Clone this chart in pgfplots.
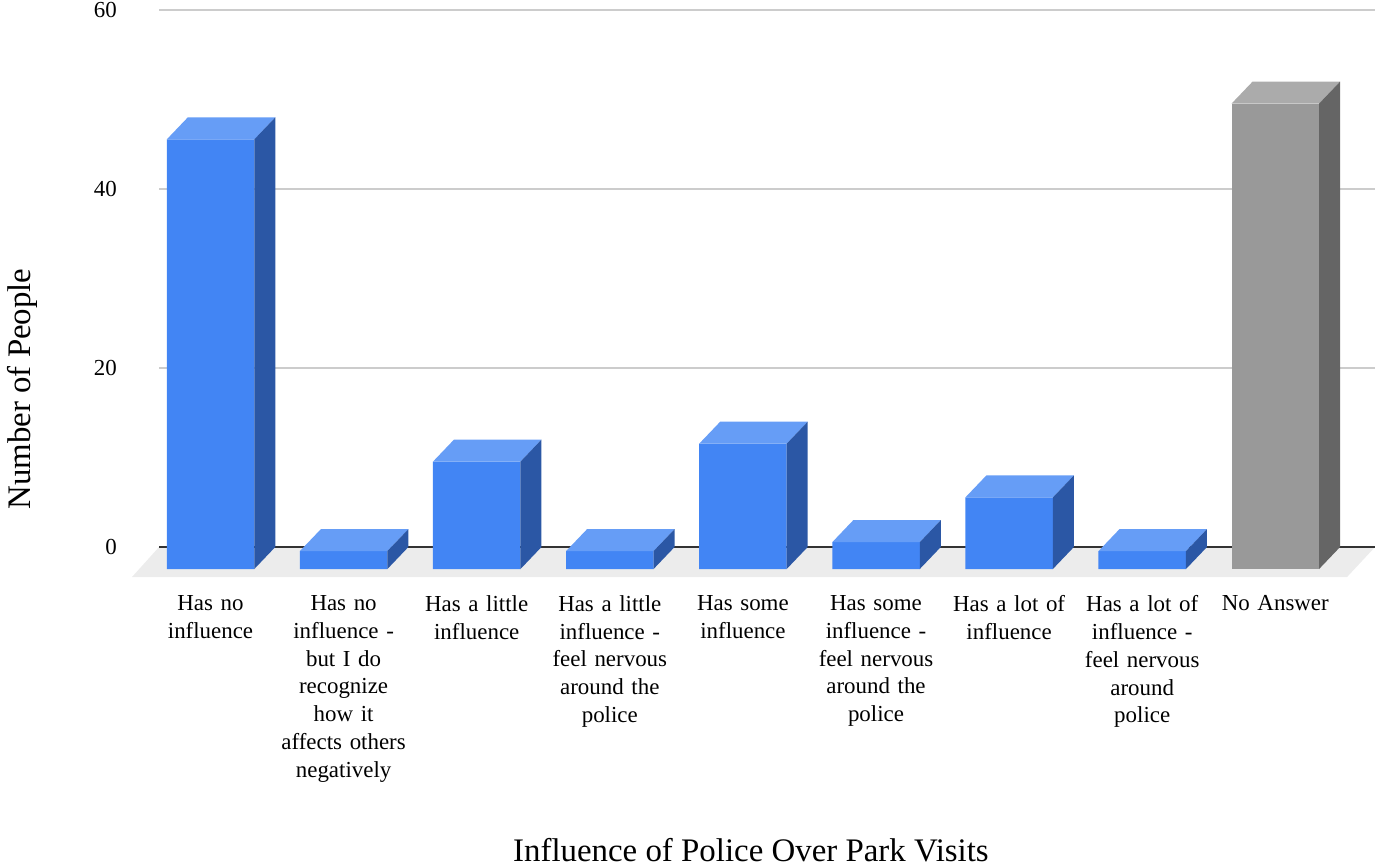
\documentclass[border=0pt]{standalone}
\usepackage{pgfplots}
\pgfplotsset{compat=1.18}
\usepackage{pgfplotstable}
\usepackage{fontspec}
\setmainfont{Liberation Serif}

\definecolor{frontblue}{HTML}{4285F4}
\definecolor{topblue}{HTML}{669DF6}
\definecolor{sideblue}{HTML}{2B57A5}
\definecolor{frontgray}{HTML}{999999}
\definecolor{topgray}{HTML}{ABABAB}
\definecolor{sidegray}{HTML}{656565}
\definecolor{gridgray}{HTML}{CCCCCC}
\definecolor{floorgray}{HTML}{ECECEC}
\definecolor{zeroline}{HTML}{333333}

\pgfplotstableread{
x v
0 48
1 2
2 12
3 2
4 14
5 3
6 8
7 2
8 52
}\datatable

\def\hw{0.3287}
\def\dx{0.1578}
\def\dy{2.458}

\begin{document}
\begin{tikzpicture}
\begin{axis}[
  name=ax,
  scale only axis,
  width=1216bp, height=567bp,
  xmin=-0.387, xmax=8.749,
  ymin=-0.894, ymax=62.458,
  clip=false,
  axis line style={draw=none},
  major tick length=0pt,
  ytick={2.458,22.458,42.458,62.458},
  yticklabels={\textrm{0},\textrm{20},\textrm{40},\textrm{60}},
  ymajorgrids,
  grid style={color=gridgray, line width=1.3bp},
  xtick={0,...,8},
  xticklabels={
    {Has no\\influence},
    {Has no\\influence -\\but I do\\recognize\\how it\\affects others\\negatively},
    {Has a little\\influence},
    {Has a little\\influence -\\feel nervous\\around the\\police},
    {Has some\\influence},
    {Has some\\influence -\\feel nervous\\around the\\police},
    {Has a lot of\\influence},
    {Has a lot of\\influence -\\feel nervous\\around\\police},
    {No Answer}},
  xticklabel style={font=\fontsize{23}{28}\selectfont, text width=140bp, align=center, anchor=north, inner sep=0pt, yshift=-18bp},
  yticklabel style={font=\fontsize{23}{28}\selectfont, anchor=east, inner sep=0pt, xshift=-42bp},
  xlabel={Influence of Police Over Park Visits},
  ylabel={Number of People},
  every axis x label/.style={at={(rel axis cs:0.4868,0)}, anchor=base, yshift=-284bp, font=\fontsize{33}{40}\selectfont, inner sep=0pt},
  every axis y label/.style={at={(rel axis cs:0,0.3316)}, rotate=90, anchor=north, yshift=152bp, font=\fontsize{33}{40}\selectfont, inner sep=0pt},
]
% floor
\addplot[fill=floorgray, draw=none, forget plot] coordinates {(-0.387,2.458) (8.749,2.458) (8.539,-0.894) (-0.590,-0.894)};
% zero line
\addplot[color=zeroline, line width=1.5bp, forget plot] coordinates {(-0.387,2.458) (8.749,2.458)};
% front faces
\addplot[ybar, bar width=0.6574, bar shift=0pt, fill=frontblue, draw=none, restrict x to domain=0:7, forget plot] table[x=x, y=v] {\datatable};
\addplot[ybar, bar width=0.6574, bar shift=0pt, fill=frontgray, draw=none, restrict x to domain=8:8, forget plot] table[x=x, y=v] {\datatable};
% top and side faces
\pgfplotsforeachungrouped \i in {0,...,8}{%
  \pgfplotstablegetelem{\i}{v}\of\datatable
  \let\val=\pgfplotsretval
  \pgfmathsetmacro\xl{\i-\hw}%
  \pgfmathsetmacro\xr{\i+\hw}%
  \pgfmathsetmacro\xrr{\i+\hw+\dx}%
  \pgfmathsetmacro\xlr{\i-\hw+\dx}%
  \pgfmathsetmacro\vt{\val+\dy}%
  \ifnum\i=8 \def\tc{topgray}\def\sc{sidegray}\else\def\tc{topblue}\def\sc{sideblue}\fi
  \edef\temp{%
    \noexpand\addplot[fill=\tc, draw=none, forget plot] coordinates {(\xl,\val) (\xr,\val) (\xrr,\vt) (\xlr,\vt)};
    \noexpand\addplot[fill=\sc, draw=none, forget plot] coordinates {(\xr,0) (\xr,\val) (\xrr,\vt) (\xrr,\dy)};
  }%
  \temp
}
\end{axis}
\pgfresetboundingbox
\path[use as bounding box] ([xshift=-159bp,yshift=-290bp]ax.south west) rectangle ([xshift=5bp,yshift=10bp]ax.north east);
\end{tikzpicture}
\end{document}
